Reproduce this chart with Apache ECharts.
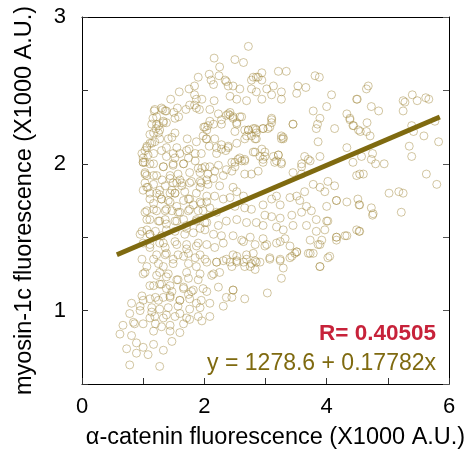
<!DOCTYPE html>
<html><head><meta charset="utf-8">
<script src="https://cdn.jsdelivr.net/npm/echarts@6/dist/echarts.min.js"></script>
<style>html,body{margin:0;padding:0;background:#fff}#c{width:473px;height:456px}</style>
</head><body><div id="c"></div>
<script>
// values in X1000 A.U.
const pointsUpper = [
[2.16,2.72],[2.25,2.66],[2.08,2.61],[2.11,2.57],[2.24,2.60],[2.34,2.57],[2.39,2.53],[1.90,2.59],[1.84,2.53],[1.75,2.51],[1.59,2.49],[1.84,2.47],[1.87,2.44],[1.96,2.44],[2.16,2.43],[1.45,2.44],[1.70,2.37],[1.76,2.40],[1.84,2.40],[1.92,2.37],[1.87,2.38],[1.56,2.38],[1.50,2.35],[1.32,2.37],[1.18,2.36],[1.36,2.36],[2.09,2.37],[2.23,2.34],[2.28,2.30],[2.39,2.34],[1.16,2.31],[1.22,2.27],[1.33,2.29],[1.38,2.28],[1.52,2.31],[1.58,2.32],[2.09,2.29],[1.99,2.25],[2.04,2.23],[1.21,2.24],[1.17,2.21],[1.25,2.21],[1.41,2.17],[1.47,2.18],[1.52,2.21],[1.72,2.17],[1.87,2.15],[2.03,2.17],[1.27,2.17],[1.19,2.15],[1.11,2.14],[1.06,2.11],[1.38,2.11],[1.55,2.11],[1.60,2.07],[1.75,2.10],[1.85,2.07],[2.08,2.12],[2.20,2.11],[2.28,2.10],[2.35,2.09],[2.39,2.12],[2.20,2.07],[1.08,2.06],[1.00,2.04],[1.38,2.05],[1.52,2.04],[1.74,2.04],
[1.19,2.37],[1.30,2.38],[1.38,2.36],[1.22,2.32],[1.14,2.27],[1.25,2.26],[1.33,2.28],[1.27,2.23],[1.11,2.20],[1.06,2.12],[1.14,2.14],[1.00,2.01],[0.98,2.07],[1.03,1.94],[1.08,1.84],[1.22,1.80],[1.00,1.82],
[2.36,2.56],[2.94,2.57],[2.85,2.59],[2.77,2.57],[2.15,2.54]
];
const pointsUpperMid = [
[2.72,2.80],[2.50,2.71],[2.64,2.69],[2.94,2.62],[3.21,2.63],[3.34,2.63],[2.88,2.59],[2.80,2.59],[3.81,2.60],[3.88,2.59],[2.47,2.53],[2.58,2.51],[2.77,2.51],[2.85,2.49],[3.02,2.51],[3.13,2.53],[3.26,2.49],[3.53,2.53],[3.66,2.52],[3.51,2.48],[4.08,2.47],[4.49,2.44],[2.42,2.46],[2.53,2.44],[2.69,2.43],[2.94,2.44],[3.10,2.47],[3.26,2.44],[4.00,2.39],[3.78,2.36],[2.42,2.35],[2.47,2.31],[2.58,2.32],[2.53,2.27],[3.10,2.30],[3.07,2.25],[2.83,2.24],[2.72,2.23],[2.96,2.24],[3.45,2.27],[3.89,2.31],[3.85,2.27],[3.83,2.24],[4.13,2.24],[4.33,2.34],[4.38,2.30],[4.43,2.26],[4.52,2.23],[2.50,2.22],[2.69,2.19],[2.83,2.17],[2.85,2.21],[3.29,2.18],[3.26,2.17],[3.86,2.15],[2.80,2.08],[2.94,2.10],[2.58,2.04],[2.99,2.05],[3.21,2.06],[3.64,2.05],[3.89,2.05],[4.33,2.11],
[2.01,2.25],[2.06,2.26],[2.15,2.27],[2.28,2.27],[2.36,2.33],[2.42,2.33],[2.47,2.32],[2.53,2.28],[2.61,2.32],[2.66,2.23],[2.72,2.23],[2.80,2.24],[2.85,2.23],[2.96,2.24],[3.04,2.24],[3.10,2.28],[3.10,2.31],[3.26,2.19],[3.29,2.17],[3.45,2.27],[1.98,2.19],[2.04,2.17],[2.17,2.17],[2.28,2.13],[2.39,2.11],[2.53,2.14],[2.66,2.17],[2.77,2.19],[2.85,2.17],[2.99,2.08],[2.83,2.08],[2.91,2.05],[3.13,2.05],[3.21,2.06],[3.15,2.01],[3.26,2.01],[2.96,2.03],[2.55,2.03],[2.45,2.01],[2.50,1.98],[2.61,2.02],[2.66,2.03]
];
const pointsRight = [
[4.68,2.53],[4.65,2.51],[4.50,2.44],[5.40,2.47],[5.25,2.43],[5.28,2.42],[5.48,2.43],[5.62,2.45],[5.67,2.44],[5.25,2.36],[4.73,2.39],[4.85,2.36],[4.38,2.31],[4.44,2.26],[4.66,2.28],[4.55,2.22],[4.65,2.22],[4.71,2.19],[5.77,2.29],[5.39,2.26],[5.42,2.22],[5.59,2.19],[5.83,2.15],[5.35,2.12],[5.39,2.05],[4.75,2.07],[4.73,2.03],[4.57,2.05],[4.80,2.00],[4.94,2.00],[4.43,2.01],[4.54,1.93],[4.60,1.93],[5.63,1.93],[5.80,1.86],[5.02,1.80],[5.18,1.81],[5.25,1.80],[4.53,1.72],[4.73,1.70],[4.75,1.65],[5.22,1.67],[4.53,1.54],
[4.00,1.71],[4.16,1.75],[4.54,1.72],[4.76,1.66],[4.00,1.61],[4.16,1.48],[4.33,1.51],[4.54,1.54],[3.89,1.45],[3.78,1.39],[3.51,1.40],[3.70,2.03],[3.59,1.98]
];
const pointsMidLeft = [
[1.03,2.01],[1.17,2.00],[1.33,1.98],[1.49,1.99],[1.66,2.00],[1.85,2.02],[1.96,1.97],[2.09,1.98],[2.23,1.99],[2.17,1.95],[2.36,1.96],
[1.03,1.93],[1.17,1.92],[1.31,1.89],[1.44,1.90],[1.55,1.87],[1.60,1.89],[1.76,1.87],[1.93,1.88],[2.04,1.89],[2.15,1.90],[2.31,1.92],[1.06,1.84],[1.27,1.82],[1.47,1.82],[1.52,1.80],[1.63,1.85],[1.93,1.84],[2.06,1.86],[2.25,1.85],
[1.11,1.76],[1.30,1.76],[1.44,1.74],[1.55,1.71],[1.74,1.76],[1.82,1.72],[1.93,1.74],[2.04,1.74],[2.17,1.78],[2.31,1.76],[2.42,1.77],[1.03,1.67],[1.17,1.69],[1.36,1.68],[1.60,1.67],[1.76,1.69],[1.98,1.68],[2.09,1.70],[2.20,1.67],
[1.06,1.62],[1.25,1.61],[1.38,1.59],[1.55,1.61],[1.71,1.58],[1.87,1.62],[2.04,1.60],[2.23,1.58],[2.36,1.61],[0.98,1.54],[1.11,1.52],[1.30,1.51],[1.52,1.54],[1.68,1.52],[1.82,1.53],[2.01,1.55],[2.15,1.52],[2.28,1.51],
[1.00,1.46],[1.11,1.43],[1.27,1.46],[1.36,1.43],[1.55,1.45],[1.71,1.42],[1.87,1.44],[2.04,1.45],[2.17,1.43],[2.31,1.46],[0.98,1.35],[1.17,1.35],[1.36,1.38],[1.49,1.35],[1.66,1.37],[1.85,1.36],[2.01,1.35],[2.20,1.33],[2.36,1.35],[1.06,1.30]
];
const pointsDenseLeft = [
[1.03,2.09],[1.17,2.07],[1.30,2.09],[1.49,2.07],[1.71,2.09],[1.95,2.07],[1.00,2.01],[1.11,2.00],[1.33,1.98],[1.49,2.00],[1.66,2.00],[1.90,1.97],[2.01,1.98],[1.06,1.92],[1.22,1.92],[1.44,1.92],[1.57,1.93],[1.76,1.94],[1.93,1.94],[2.06,1.93],[1.03,1.87],[1.17,1.86],[1.36,1.85],[1.49,1.87],[1.63,1.87],[1.79,1.88],[1.95,1.87],[1.11,1.80],[1.27,1.79],[1.44,1.80],[1.52,1.80],[1.68,1.81],[1.87,1.80],[2.04,1.78],[1.17,1.73],[1.30,1.76],[1.41,1.75],[1.66,1.75],[1.76,1.76],[1.95,1.73],[1.06,1.68],[1.22,1.68],[1.38,1.69],[1.47,1.68],[1.57,1.67],[1.74,1.68],[1.90,1.68],[1.11,1.62],[1.27,1.61],[1.36,1.62],[1.52,1.61],[1.66,1.62],[1.87,1.61],[2.01,1.60],[1.06,1.55],[1.20,1.54],[1.38,1.55],[1.71,1.56],[1.93,1.56],[0.95,1.52],[1.11,1.52],
[1.11,1.45],[1.33,1.46],[1.52,1.47],[1.71,1.45],[1.90,1.46],[1.22,1.38],[1.38,1.39],[1.57,1.38],[1.74,1.39],[1.93,1.38],[1.03,1.26],[1.25,1.32],[1.33,1.30],[1.49,1.32],[1.74,1.32],[1.87,1.30],[2.04,1.33],[1.22,1.24],[1.41,1.25],[1.57,1.21],[1.74,1.22],[1.90,1.21],[1.11,1.17],[1.27,1.18],[1.38,1.15],[1.47,1.13],[1.66,1.16],[1.79,1.13],[1.98,1.15],[1.00,1.07],[1.20,1.09],[1.33,1.09],[1.44,1.09],[1.60,1.07],[1.76,1.08],[1.95,1.07],[0.95,1.03],[1.14,1.02],[1.27,1.01],[1.41,1.02],[1.57,1.03],[1.76,1.01],[1.93,1.02],[1.11,0.95],[1.33,0.95],[1.52,0.96],[1.71,0.95],[1.90,0.96],[0.86,0.91],[1.20,0.91],[1.44,0.90],[1.66,0.91]
];
const pointsMid = [
[2.50,2.01],[2.66,2.02],[2.96,2.01],[3.18,2.02],[3.26,2.00],[3.59,2.00],[3.73,2.02],[4.49,1.92],[2.45,1.95],[2.66,1.93],[2.77,1.93],[2.88,1.95],[3.45,1.94],[3.59,1.93],
[3.78,1.86],[3.89,1.84],[4.02,1.88],[4.13,1.85],[3.97,1.81],[4.16,1.75],[4.33,1.74],[4.51,1.76],[3.64,1.81],[3.51,1.78],[3.40,1.77],[3.18,1.78],[3.10,1.76],[3.24,1.72],[2.47,1.84],[2.53,1.81],[2.64,1.78],[2.96,1.72],[3.56,1.75],[3.67,1.71],
[2.50,1.71],[2.66,1.70],[2.77,1.69],[2.99,1.65],[3.10,1.64],[3.24,1.63],[3.43,1.65],[3.59,1.67],[3.75,1.68],[3.83,1.62],[4.02,1.61],[2.53,1.62],[2.69,1.60],[2.85,1.60],[2.96,1.58],[3.18,1.57],[3.29,1.55],[3.45,1.58],[3.67,1.58],[3.83,1.54],[3.97,1.55],[4.16,1.50],[4.30,1.51],[4.49,1.55],
[2.47,1.51],[2.64,1.47],[2.83,1.45],[2.99,1.44],[3.24,1.47],[3.40,1.44],[3.51,1.40],[3.70,1.39],[3.86,1.45],[4.05,1.37],[2.53,1.37],[2.69,1.35],[2.83,1.34],[3.07,1.36],[3.24,1.35],[3.43,1.37],[3.89,1.30],[2.75,1.30],
[2.61,1.48],[2.75,1.50],[2.96,1.49],[3.02,1.45],[3.18,1.46],[3.32,1.49],[3.73,1.48],[3.92,1.48],[4.16,1.50],[2.47,1.38],[2.53,1.33],[2.69,1.38],[2.80,1.39],[2.85,1.33],[3.07,1.35],[3.24,1.34],[3.40,1.36],[3.48,1.39],[3.73,1.39],[3.89,1.30],[4.02,1.36],[2.45,1.30],[2.66,1.30],[2.83,1.28],[3.29,1.29],[3.26,1.22],[2.47,1.14],[2.45,1.09],[2.66,1.08],[3.03,1.12],
[2.20,1.33],[2.31,1.34],[2.42,1.33],[2.53,1.34],[2.64,1.33],[2.77,1.32],[2.91,1.33]
];
const pointsLower = [
[1.00,1.25],[1.27,1.26],[1.38,1.23],[1.55,1.21],[1.71,1.26],[1.93,1.25],[2.12,1.24],[1.17,1.17],[1.30,1.18],[1.44,1.17],[1.66,1.15],[1.82,1.14],[2.04,1.13],[2.23,1.16],[2.36,1.09],[0.98,1.10],[1.11,1.08],[1.25,1.07],[1.44,1.10],[1.60,1.07],[1.74,1.11],[1.87,1.05],[2.09,1.05],[2.31,1.03],
[0.81,1.05],[0.78,0.98],[0.95,1.00],[1.14,0.99],[1.19,0.96],[1.38,0.97],[1.60,0.98],[1.76,0.94],[1.96,0.93],[2.09,0.96],[0.67,0.90],[0.84,0.92],[1.00,0.91],[1.17,0.86],[1.30,0.89],[1.44,0.86],[1.60,0.85],[0.62,0.84],[0.81,0.83],[0.89,0.78],[1.00,0.75],[1.17,0.77],[1.33,0.73],[1.47,0.79],[0.73,0.74],[0.89,0.71],[1.08,0.70],[0.78,0.63],[1.27,0.62],
[2.15,1.25],[2.25,1.26],[2.47,1.14]
];
const fitIntercept = 1278.6 / 1000;  // y = 1278.6 + 0.17782x (A.U.)
const fitSlope = 0.17782;
const fitRange = [0.57, 5.85];
const rText = 'R= 0.40505';
const eqText = 'y = 1278.6 + 0.17782x';
const xTicks = [0, 2, 4, 6];
const yTicks = [1, 2, 3];

const allPoints = [].concat(pointsUpper, pointsUpperMid, pointsRight, pointsMidLeft, pointsDenseLeft, pointsMid, pointsLower);
const fitLine = fitRange.map(x => [x, fitIntercept + fitSlope * x]);

const FONT = 'Liberation Sans';
const chart = echarts.init(document.getElementById('c'));
chart.setOption({
  animation: false,
  backgroundColor: '#fff',
  grid: { left: 82, right: 24, top: 17, bottom: 72 },
  xAxis: [{
    type: 'value', min: 0, max: 6, interval: 1,
    name: 'α-catenin fluorescence (X1000 A.U.)', nameLocation: 'middle', nameGap: 42,
    nameTextStyle: { fontFamily: FONT, fontSize: 23.5, color: '#000', padding: [0, 0, 0, 20] },
    axisLine: { show: true, lineStyle: { color: '#000', width: 1 } },
    axisTick: { show: true, inside: true, length: 6, lineStyle: { color: '#333' } },
    axisLabel: { margin: 12, fontFamily: FONT, fontSize: 22, color: '#000',
      formatter: v => xTicks.includes(v) ? String(v) : '' },
    splitLine: { show: false }
  }, {
    type: 'value', min: 0, max: 6, position: 'top',
    axisLine: { show: true, onZero: false, lineStyle: { color: '#000', width: 1 } },
    axisTick: { show: false }, axisLabel: { show: false }, splitLine: { show: false }
  }],
  yAxis: [{
    type: 'value', min: 0.5, max: 3, interval: 0.5,
    name: 'myosin-1c fluorescence (X1000 A.U.)', nameLocation: 'middle', nameGap: 45,
    nameTextStyle: { fontFamily: FONT, fontSize: 23.5, color: '#000' },
    axisLine: { show: true, lineStyle: { color: '#000', width: 1 } },
    axisTick: { show: true, inside: true, length: 6, lineStyle: { color: '#333' } },
    axisLabel: { margin: 16, fontFamily: FONT, fontSize: 22, color: '#000',
      formatter: v => yTicks.includes(v) ? String(v) : '' },
    splitLine: { show: false }
  }, {
    type: 'value', min: 0.5, max: 3, interval: 0.5, position: 'right',
    axisLine: { show: true, onZero: false, lineStyle: { color: '#000', width: 1 } },
    axisTick: { show: true, inside: true, length: 6, lineStyle: { color: '#555' } },
    axisLabel: { show: false }, splitLine: { show: false }
  }],
  series: [{
    type: 'scatter', data: allPoints, symbol: 'circle', symbolSize: 8,
    itemStyle: { color: 'rgba(0,0,0,0)', borderColor: 'rgba(160,135,60,0.6)', borderWidth: 1 }
  }, {
    type: 'line', data: fitLine, symbol: 'none',
    lineStyle: { color: '#7f6a10', width: 5 }, z: 5
  }],
  graphic: [
    { type: 'text', right: 37, top: 322,
      style: { text: rText, font: 'bold 22.5px "Liberation Sans"', fill: '#c7223a' } },
    { type: 'text', right: 37, top: 352,
      style: { text: eqText, font: '23px "Liberation Sans"', fill: '#7f6a10' } }
  ]
});
</script></body></html>
